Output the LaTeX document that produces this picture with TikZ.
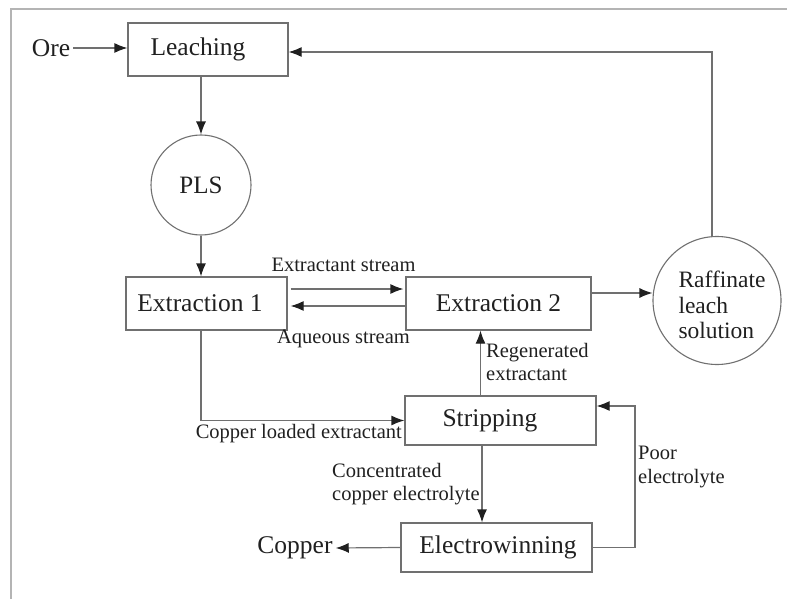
\documentclass[tikz,border=0pt]{standalone}
\usepackage{fontspec}
\setmainfont{Liberation Serif}
\newfontfamily\tnr{Liberation Serif}
\usetikzlibrary{arrows.meta,calc}
\definecolor{linegray}{HTML}{707070}
\definecolor{framegray}{HTML}{B4B4B4}
\definecolor{ink}{HTML}{202020}
\begin{document}
\begin{tikzpicture}[x=1pt,y=-1pt,
  box/.style={draw=linegray,line width=1.2pt,inner sep=0pt,text=ink,font=\tnr\fontsize{25.5}{30}\selectfont},
  roundnode/.style={draw=linegray,line width=1.1pt,circle,inner sep=0pt,text=ink},
  bigtext/.style={inner sep=3pt,text=ink,font=\tnr\fontsize{25.5}{30}\selectfont},
  lbl/.style={inner sep=2pt,text=ink,font=\tnr\fontsize{20.5}{23.5}\selectfont,align=left},
  arr/.style={draw=linegray,line width=1.2pt,-{Latex[length=13pt,width=10pt,color=ink]}},
  ln/.style={draw=linegray,line width=1.2pt},
  frame/.style={draw=framegray,line width=2pt}]
\useasboundingbox (0,0) rectangle (787,599);
\draw[frame] (11,599) -- (11,9) -- (787,9);

% nodes
\node[box,minimum width=160pt,minimum height=53pt] (Leaching) at (208,49.5) {Leaching\hspace*{20pt}};
\node[bigtext] (Ore) at (51,48) {Ore};
\node[roundnode,minimum size=100pt,font=\tnr\fontsize{25}{30}\selectfont] (PLS) at (201,185) {PLS};
\node[box,minimum width=161pt,minimum height=53pt] (Extraction1) at (206.5,303.5) {Extraction 1\hspace*{13pt}};
\node[box,minimum width=185pt,minimum height=53pt] (Extraction2) at (498.5,303.5) {Extraction 2};
\node[roundnode,minimum size=128pt] (Raff) at (717,300.5) {};
\node[inner sep=0pt,text=ink,align=left,font=\tnr\fontsize{23.5}{25.5}\selectfont] (RaffText) at (722,305) {Raffinate\\leach\\solution};
\node[box,minimum width=191pt,minimum height=49pt] (Stripping) at (500.5,420.5) {Stripping\hspace*{21pt}};
\node[box,minimum width=191pt,minimum height=49pt] (Electrowinning) at (496.5,547.5) {\hspace*{3pt}Electrowinning};
\node[bigtext] (Copper) at (295,548) {Copper};
\coordinate (pe) at (635,0);

% labels
\node[lbl] (lExt) at (343.5,265) {Extractant stream};
\node[lbl] (lAq) at (343.5,339) {Aqueous stream};
\node[lbl,anchor=west] (lReg) at (484,362) {Regenerated\\extractant};
\node[lbl,anchor=east] (lCle) at (404,434) {Copper loaded extractant};
\node[lbl,anchor=west] (lConc) at (330,484) {Concentrated\\copper electrolyte};
\node[lbl,anchor=west] (lPoor) at (636,467) {Poor\\electrolyte};

% connectors
\draw[arr] (Ore.east) -- (Ore.east -| Leaching.west);
\draw[arr] ([xshift=-5pt]Raff.north) |- ([yshift=-2.5pt]Leaching.east);
\draw[arr] (PLS.north |- Leaching.south) -- (PLS.north);
\draw[arr] (PLS.south) -- (PLS.south |- Extraction1.north);
\draw[arr,shorten <=3pt,shorten >=2pt] ([yshift=14.5pt]Extraction1.east) -- ([yshift=14.5pt]Extraction2.west);
\draw[arr,shorten >=3pt] ([yshift=-2.5pt]Extraction2.west) -- ([yshift=-2.5pt]Extraction1.east);
\draw[arr] ([yshift=10.5pt]Extraction2.east) -- ([yshift=10.5pt]Extraction2.east -| Raff.west);
\draw[arr] ([xshift=-20pt]Stripping.north) -- ([xshift=-20pt]Stripping.north |- Extraction2.south);
\draw[arr] (PLS.south |- Extraction1.south) |- (Stripping.west);
\draw[arr] ([xshift=-18.5pt]Stripping.south) -- ([xshift=-18.5pt]Stripping.south |- Electrowinning.north);
\draw[arr] (Electrowinning.west) -- (Copper.east);
\draw[arr] (Electrowinning.east) -- (Electrowinning.east -| pe) |- ([yshift=14.5pt]Stripping.east);
\end{tikzpicture}
\end{document}
